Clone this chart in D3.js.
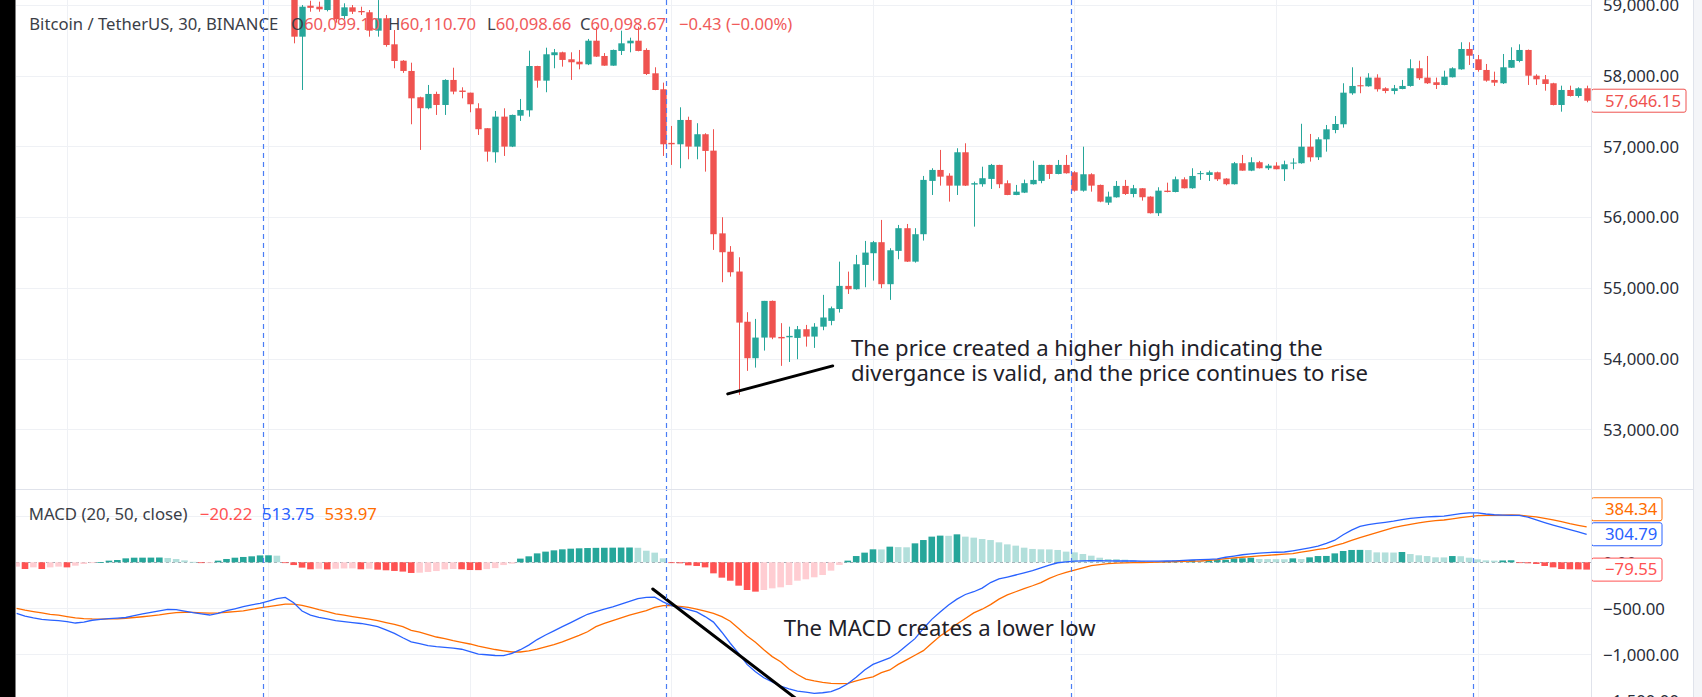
<!DOCTYPE html>
<html>
<head>
<meta charset="utf-8">
<script src="https://cdn.jsdelivr.net/npm/d3@7"></script>
<style>
html,body{margin:0;padding:0;background:#fff;overflow:hidden;}
svg{display:block;}
</style>
</head>
<body>
<svg id="chart" width="1702" height="697"></svg>
<script>
// ---------------- DATA ----------------
const symbolTitle = "Bitcoin / TetherUS, 30, BINANCE";
const ohlcLegendKeys = ["O", "H", "L", "C"];
const ohlcLegendValues = ["60,099.10", "60,110.70", "60,098.66", "60,098.67"];
const changeLegend = "\u22120.43 (\u22120.00%)";
const macdTitle = "MACD (20, 50, close)";
const macdLegendValues = ["\u221220.22", "513.75", "533.97"];
const noteTop = ["The price created a higher high indicating the", "divergance is valid, and the price continues to rise"];
const noteBottom = "The MACD creates a lower low";

const priceTicks = [53000, 54000, 55000, 56000, 57000, 58000, 59000];
const macdGridTicks = [500, -500, -1000, -1500];
const macdLabelTicks = [0, -500, -1000, -1500];
const timeGridIdx = [6, 30, 54, 78, 102, 126, 150, 174];
const dividerIdx = [29.4, 77.4, 125.55, 173.45];

// candles start at bar index 33 (earlier bars are above the visible price range)
const firstCandle = 33;
const candleOpen = [
59350,58552,58990,58976,58929,59100,58844,58967,58915,58897,
58637,58812,58444,58212,58067,57695,57540,57742,57586,57940,
57790,57760,57539,57257,56917,57421,56997,57435,57510,58137,
57930,58290,58331,58232,58198,58161,58495,58279,58142,58350,
58458,58495,58364,58034,57808,57050,57030,57374,56997,57172,
56940,55770,55510,55230,54520,54004,54296,54815,54305,54300,
54291,54414,54310,54450,54532,54700,55027,54980,55324,55489,
55645,55051,55522,55843,55370,55758,56512,56667,56586,56445,
56917,56460,56465,56540,56738,56479,56313,56346,56465,56512,
56738,56610,56738,56634,56374,56606,56455,56205,56280,56441,
56327,56408,56290,56055,56374,56355,56535,56408,56610,56596,
56634,56545,56465,56762,56657,56776,56691,56728,56677,56757,
56762,56996,56846,57100,57232,57313,57751,57865,57850,57973,
57822,57784,57812,57855,58105,57973,57907,57869,57978,58090,
58378,58232,58081,57940,57893,58113,58208,58364,58000,57949,
57893,57586,57798,57713,57822];
const candleHigh = [
59420,59000,59060,59047,59150,59150,59024,59000,58976,58929,
59070,58859,58646,58220,58184,57703,57869,57774,57950,58113,
57836,57760,57610,57257,57501,57539,57450,57671,58354,58140,
58396,58378,58340,58331,58364,58520,58693,58320,58370,58637,
58538,58693,58388,58119,57902,57289,57553,57420,57328,57186,
57243,55998,55590,55432,54655,54560,54815,54820,54500,54450,
54460,54475,54500,54900,54735,55370,55229,55465,55663,55663,
55960,55560,55889,55903,55843,56582,56691,56950,56620,56974,
57044,56502,56713,56752,56740,56520,56455,56530,56798,56740,
56740,56808,56879,56650,56996,56620,56460,56360,56511,56526,
56455,56410,56295,56422,56487,56573,56563,56691,56653,56657,
56643,56550,56780,56879,56846,56795,56752,56776,56798,56832,
57320,57176,57130,57303,57430,57893,58119,57986,58035,58020,
57836,57869,57940,58232,58212,58279,57973,58071,58119,58473,
58473,58293,58166,58057,58307,58402,58444,58370,58020,58010,
57900,57859,57859,57836,57859];
const candleLow = [
58458,57798,58905,58905,58910,58750,58798,58873,58859,58552,
58552,58410,58105,58040,57313,56950,57525,57445,57445,57737,
57680,57483,57162,56785,56770,56865,56990,57360,57420,57830,
57766,58105,58128,57940,58090,58150,58265,58140,58140,58293,
58331,58345,58010,57795,56865,56738,56691,56818,56818,56643,
55536,55079,55158,53485,53825,53871,54112,54273,53896,53951,
53990,54168,54150,54400,54470,54650,54913,54975,55008,55102,
54994,54829,55404,55365,55356,55668,56313,56445,56219,56313,
56440,55865,56430,56398,56410,56310,56310,56340,56460,56479,
56540,56605,56615,56360,56360,56360,56210,56172,56275,56313,
56280,56233,56050,56016,56350,56350,56405,56400,56526,56511,
56511,56450,56460,56655,56650,56688,56667,56675,56511,56677,
56755,56785,56808,56926,57186,57265,57730,57752,57845,57775,
57752,57737,57808,57845,57940,57883,57812,57865,57975,58085,
58152,58057,57915,57855,57883,58110,58190,57869,57869,57788,
57580,57491,57705,57690,57624];
const candleClose = [
58552,58976,58960,58939,59080,58798,58967,58905,58897,58637,
58812,58434,58208,58067,57680,57540,57742,57586,57940,57775,
57770,57596,57243,56926,57421,56997,57445,57515,58137,57930,
58303,58331,58223,58190,58161,58495,58270,58142,58364,58458,
58495,58350,58024,57798,57030,57030,57374,56997,57172,56936,
55758,55503,55220,54508,54004,54296,54815,54296,54285,54320,
54414,54310,54450,54580,54711,55027,54980,55333,55498,55645,
55051,55531,55843,55370,55758,56526,56667,56572,56445,56917,
56445,56480,56550,56738,56465,56313,56360,56480,56526,56738,
56610,56738,56620,56374,56606,56445,56219,56290,56441,56327,
56408,56281,56055,56374,56355,56535,56408,56582,56622,56634,
56535,56465,56762,56657,56776,56691,56728,56677,56747,56771,
56996,56846,57100,57242,57317,57760,57855,57850,57973,57808,
57784,57822,57855,58105,57964,57893,57869,57986,58105,58378,
58283,58081,57930,57902,58119,58222,58364,58000,57949,57883,
57586,57798,57713,57822,57646.15];

// MACD pane, bars 0..187
const macdLine = [
-554,-585,-605,-620,-628,-634,-645,-660,-650,-630,
-620,-612,-606,-600,-580,-560,-545,-528,-512,-515,
-530,-547,-560,-573,-555,-526,-505,-482,-462,-446,
-421,-395,-381,-440,-530,-575,-598,-615,-634,-645,
-655,-665,-680,-700,-735,-772,-820,-865,-885,-905,
-917,-925,-933,-945,-970,-997,-1005,-1013,-1015,-990,
-950,-900,-840,-790,-745,-700,-655,-610,-565,-535,
-510,-485,-455,-425,-395,-382,-380,-430,-470,-490,
-515,-540,-590,-650,-760,-880,-990,-1110,-1190,-1255,
-1300,-1345,-1375,-1400,-1412,-1424,-1418,-1405,-1370,-1320,
-1250,-1170,-1110,-1075,-1040,-980,-905,-830,-720,-620,
-540,-465,-400,-350,-320,-280,-220,-180,-160,-138,
-115,-90,-60,-30,-5,5,12,15,18,17,
15,14,14,14,13,13,13,14,16,20,
25,28,32,38,55,68,82,92,100,106,
109,112,125,140,157,175,205,240,300,350,
390,410,422,435,448,465,478,485,493,498,
502,515,528,538,538,525,517,513,511,510,
490,460,432,405,380,355,330,304.79];
const signalLine = [
-500,-520,-535,-550,-565,-575,-590,-605,-612,-616,
-617,-616,-614,-608,-600,-592,-582,-572,-558,-548,
-543,-545,-550,-553,-550,-543,-536,-528,-512,-495,
-482,-468,-455,-455,-468,-490,-515,-535,-560,-575,
-590,-603,-618,-635,-655,-675,-700,-740,-760,-785,
-812,-830,-852,-870,-888,-912,-930,-948,-962,-975,
-975,-962,-945,-920,-895,-865,-830,-795,-755,-700,
-665,-635,-605,-575,-550,-525,-490,-470,-470,-478,
-490,-510,-530,-555,-590,-640,-720,-800,-870,-950,
-1025,-1080,-1160,-1220,-1270,-1290,-1305,-1315,-1318,-1315,
-1290,-1265,-1245,-1200,-1170,-1110,-1060,-1010,-960,-880,
-800,-740,-670,-610,-550,-510,-460,-400,-355,-320,
-285,-255,-220,-175,-138,-110,-85,-60,-35,-25,
-15,-10,-7,-4,-2,0,2,5,8,10,
12,14,20,30,40,48,55,62,70,76,
82,88,95,110,125,140,152,180,206,238,
268,295,322,350,376,395,413,428,442,452,
460,472,485,497,507,510,510,512,514,512,
503,493,478,460,442,420,402,384.34];
const histogram = [
-47,-73,-55,-73,-55,-47,-55,-37,-18,-4,
2,18,25,43,50,50.5,51,52,47,36,
21,5,-8,-2,18,36,50,58,65,75,
76,72,-5,-30,-58,-76,-70,-77,-70,-67,
-66,-76,-70,-80,-87,-94,-101,-116,-113,-105,
-95,-77,-73,-76,-84,-85,-74,-63,-30,-15,
40,65,97,116,130,141,148,152,155,157,
158,159,160,161,158,126,105,43,-2,-11,
-33,-40,-55,-120,-167,-200,-254,-301,-319,-301,
-283,-272,-247,-200,-185,-163,-138,-91,-29,18,
68,105,141,140,170,165,163,206,242,279,
290,288,304,279,268,253,242,217,195,181,
159,145,141,140,134,116,108,90,72,50,
36,35,29,21,14,7,3,14,18,17,
25,20,22,25,28,43,44,50,36,35,
34,33,43,36,54,68,69,97,123,134,
135,133,108,107,106,112,90,76,68,54,
53,68,66,50,32,21,18,20,22,-4,
-11,-18,-40,-55,-73,-76,-77,-79.55];

// annotation lines, in data units (bar index, value)
const priceTrend = [[84.7, 53499], [97.2, 53895]];
const macdTrend = [[75.77, -290], [93.3, -1514]];

// ---------------- LAYOUT ----------------
const W = 1702, H = 697;
const plotLeft = 16, axisX = 1591, rightBorder = 1693;
const priceTop = 0, priceBottom = 489;
const macdTop = 490, macdBottom = 697;
const FONT = "'Noto Sans', sans-serif";
const C = {
  up: "#26a69a", down: "#ef5350", grid: "#eff1f5", sep: "#e0e3eb",
  histUpStrong: "#26a69a", histUpWeak: "#b2dfdb", histDownStrong: "#ff5252", histDownWeak: "#ffcdd2",
  macd: "#2962ff", signal: "#ff6d00", divider: "#4a7df5", text: "#2a2e39", legendRed: "#f05a5a"
};

const svg = d3.select("#chart");
svg.append("rect").attr("width", W).attr("height", H).attr("fill", "#fff");

function fitSize(str, target) {
  const t = svg.append("text").attr("font-family", FONT).attr("font-size", 100).text(str);
  const w = t.node().getComputedTextLength();
  t.remove();
  return 100 * target / w;
}
const fsLegend = fitSize(symbolTitle, 249);
const fsAxis = fitSize("58,000.00", 76);
const fsNote = fitSize(noteBottom, 312);
const fsMacdLegend = fitSize(macdTitle, 159);

const nBars = macdLine.length;
const x = d3.scaleLinear().domain([0, nBars - 1]).range([16.6, 16.6 + (nBars - 1) * 8.396]);
const yP = d3.scaleLinear().domain([53000, 59000]).range([429.2, 5]);
const yM = d3.scaleLinear().domain([-1000, 0]).range([654.3, 562.3]);
const bodyW = 6.4, histW = 6.6;

const defs = svg.append("defs");
defs.append("clipPath").attr("id", "clipP").append("rect")
  .attr("x", plotLeft).attr("y", priceTop).attr("width", axisX - plotLeft).attr("height", priceBottom - priceTop);
defs.append("clipPath").attr("id", "clipM").append("rect")
  .attr("x", plotLeft).attr("y", macdTop).attr("width", axisX - plotLeft).attr("height", macdBottom - macdTop);

const gP = svg.append("g").attr("clip-path", "url(#clipP)");
const gM = svg.append("g").attr("clip-path", "url(#clipM)");

// grids
gP.selectAll(".hg").data(priceTicks).join("line")
  .attr("x1", plotLeft).attr("x2", axisX).attr("y1", d => Math.round(yP(d)) + 0.5).attr("y2", d => Math.round(yP(d)) + 0.5)
  .attr("stroke", C.grid);
gM.selectAll(".hg").data(macdGridTicks).join("line")
  .attr("x1", plotLeft).attr("x2", axisX).attr("y1", d => Math.round(yM(d)) + 0.5).attr("y2", d => Math.round(yM(d)) + 0.5)
  .attr("stroke", C.grid);
[gP, gM].forEach(g => {
  g.selectAll(".vg").data(timeGridIdx).join("line")
    .attr("x1", d => Math.round(x(d)) + 0.5).attr("x2", d => Math.round(x(d)) + 0.5)
    .attr("y1", 0).attr("y2", H).attr("stroke", C.grid);
});

// zero line of MACD
gM.append("line").attr("x1", plotLeft).attr("x2", axisX)
  .attr("y1", Math.round(yM(0)) + 0.5).attr("y2", Math.round(yM(0)) + 0.5)
  .attr("stroke", "#a3a6af").attr("stroke-dasharray", "3,3");

// histogram
gM.selectAll(".hb").data(histogram).join("rect")
  .attr("x", (d, i) => x(i) - histW / 2)
  .attr("width", histW)
  .attr("y", d => Math.min(yM(d), yM(0)))
  .attr("height", d => Math.max(0.8, Math.abs(yM(d) - yM(0))))
  .attr("fill", (d, i) => {
    const p = i > 0 ? histogram[i - 1] : d;
    if (d >= 0) return d > p ? C.histUpStrong : C.histUpWeak;
    return d < p ? C.histDownStrong : C.histDownWeak;
  });

// MACD and signal lines
const lineGen = d3.line().x((d, i) => x(i)).y(d => yM(d));
gM.append("path").datum(signalLine).attr("d", lineGen).attr("fill", "none").attr("stroke", C.signal).attr("stroke-width", 1.3);
gM.append("path").datum(macdLine).attr("d", lineGen).attr("fill", "none").attr("stroke", C.macd).attr("stroke-width", 1.3);

// legends (under candles)
const legend = svg.append("text").attr("font-family", FONT).attr("font-size", fsLegend)
  .attr("dominant-baseline", "central").attr("y", 22.7);
legend.append("tspan").attr("x", 29.3).attr("fill", "#3b3e47").text(symbolTitle);
const legendX = [291, 388, 487, 580];
ohlcLegendKeys.forEach((k, j) => {
  legend.append("tspan").attr("x", legendX[j]).attr("fill", "#3b3e47").text(k);
  legend.append("tspan").attr("fill", C.legendRed).text(ohlcLegendValues[j]);
});
legend.append("tspan").attr("x", 679).attr("fill", C.legendRed).text(changeLegend);

const ml = svg.append("text").attr("font-family", FONT).attr("font-size", fsMacdLegend)
  .attr("dominant-baseline", "central").attr("y", 513.3);
ml.append("tspan").attr("x", 28.7).attr("fill", "#3b3e47").text(macdTitle);
const mlX = [199.8, 262, 324.5], mlC = [C.histDownStrong, C.macd, C.signal];
macdLegendValues.forEach((v, j) => ml.append("tspan").attr("x", mlX[j]).attr("fill", mlC[j]).text(v));

// candles
const candles = candleOpen.map((o, k) => ({ i: firstCandle + k, o, h: candleHigh[k], l: candleLow[k], c: candleClose[k] }));
const cg = gP.append("g");
cg.selectAll(".wick").data(candles).join("line")
  .attr("x1", d => Math.round(x(d.i)) + 0.5).attr("x2", d => Math.round(x(d.i)) + 0.5)
  .attr("y1", d => yP(d.h)).attr("y2", d => yP(d.l))
  .attr("stroke", d => d.c >= d.o ? C.up : C.down).attr("stroke-width", 1);
cg.selectAll(".body").data(candles).join("rect")
  .attr("x", d => Math.round(x(d.i)) + 0.5 - bodyW / 2).attr("width", bodyW)
  .attr("y", d => yP(Math.max(d.o, d.c)))
  .attr("height", d => Math.max(1, Math.abs(yP(d.o) - yP(d.c))))
  .attr("fill", d => d.c >= d.o ? C.up : C.down);

// dashed session dividers
svg.selectAll(".div").data(dividerIdx).join("line")
  .attr("x1", d => Math.round(x(d)) + 0.5).attr("x2", d => Math.round(x(d)) + 0.5)
  .attr("y1", 0).attr("y2", H).attr("stroke", C.divider).attr("stroke-width", 1.2).attr("stroke-dasharray", "5,4");

// trend lines
gP.append("line")
  .attr("x1", x(priceTrend[0][0])).attr("y1", yP(priceTrend[0][1]))
  .attr("x2", x(priceTrend[1][0])).attr("y2", yP(priceTrend[1][1]))
  .attr("stroke", "#000").attr("stroke-width", 3).attr("stroke-linecap", "round");
gM.append("line")
  .attr("x1", x(macdTrend[0][0])).attr("y1", yM(macdTrend[0][1]))
  .attr("x2", x(macdTrend[1][0])).attr("y2", yM(macdTrend[1][1]))
  .attr("stroke", "#000").attr("stroke-width", 3).attr("stroke-linecap", "round");

// annotation texts
const nt = svg.append("text").attr("font-family", FONT).attr("font-size", fsNote).attr("fill", "#1e2129")
  .attr("dominant-baseline", "central");
nt.append("tspan").attr("x", 851).attr("y", 347).text(noteTop[0]);
nt.append("tspan").attr("x", 851).attr("y", 372).text(noteTop[1]);
svg.append("text").attr("font-family", FONT).attr("font-size", fsNote).attr("fill", "#1e2129")
  .attr("dominant-baseline", "central").attr("x", 783.7).attr("y", 627.3).text(noteBottom);

// axis area
svg.append("rect").attr("x", axisX).attr("y", 0).attr("width", W - axisX).attr("height", H).attr("fill", "#fff");
svg.append("rect").attr("x", rightBorder).attr("y", 0).attr("width", W - rightBorder).attr("height", H).attr("fill", "#f4f5f8");

const axP = d3.axisRight(yP).tickValues(priceTicks).tickFormat(d3.format(",.2f")).tickSize(0).tickPadding(0);
const axM = d3.axisRight(yM).tickValues(macdLabelTicks).tickFormat(d3.format(",.2f")).tickSize(0).tickPadding(0);
[axP, axM].forEach(ax => {
  const g = svg.append("g").attr("transform", `translate(1603,0)`).call(ax);
  g.select(".domain").remove();
  g.selectAll("text").attr("font-family", FONT).attr("font-size", fsAxis).attr("fill", C.text).attr("dy", "0.35em");
});

// value boxes
function valueBox(cy, w, color, label) {
  svg.append("rect").attr("x", axisX + 0.5).attr("y", cy - 11.5).attr("width", w).attr("height", 23)
    .attr("rx", 2).attr("fill", "#fff").attr("stroke", color).attr("stroke-width", 1);
  svg.append("text").attr("x", 1605).attr("y", cy).attr("dy", "0.35em").attr("font-family", FONT)
    .attr("font-size", fsAxis).attr("fill", color).text(label);
}
const fmt = d3.format(",.2f");
const lastClose = candleClose[candleClose.length - 1];
valueBox(yP(lastClose), 94.5, C.down, fmt(lastClose));
const lastMacd = macdLine[nBars - 1], lastSignal = signalLine[nBars - 1], lastHist = histogram[nBars - 1];
const blueY = yM(lastMacd);
const orangeY = Math.min(yM(lastSignal), blueY - 25);
valueBox(orangeY, 70.5, C.signal, fmt(lastSignal));
valueBox(blueY, 70.5, C.macd, fmt(lastMacd));
valueBox(yM(lastHist), 70.5, C.histDownStrong, fmt(lastHist));

// separators
svg.append("line").attr("x1", axisX + 0.5).attr("x2", axisX + 0.5).attr("y1", 0).attr("y2", H).attr("stroke", C.sep);
svg.append("line").attr("x1", rightBorder + 0.5).attr("x2", rightBorder + 0.5).attr("y1", 0).attr("y2", H).attr("stroke", C.sep);
svg.append("line").attr("x1", 0).attr("x2", rightBorder).attr("y1", priceBottom + 0.5).attr("y2", priceBottom + 0.5).attr("stroke", C.sep);

// left dark edge
svg.append("rect").attr("x", 0).attr("y", 0).attr("width", plotLeft - 0.5).attr("height", H).attr("fill", "#000");
</script>
</body>
</html>
